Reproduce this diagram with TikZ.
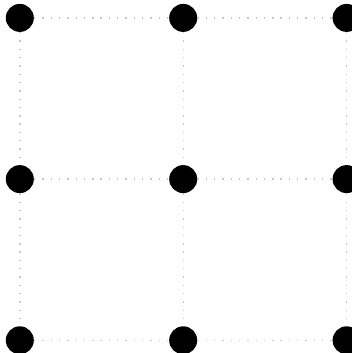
\documentclass[tikz,border=0pt]{standalone}
\usepackage{tikz}
\usetikzlibrary{positioning}

\begin{document}
\begin{tikzpicture}[
  x=1pt,y=1pt,
  v/.style={circle,fill=black,minimum size=28pt,inner sep=0pt},
  g/.style={draw=black!22,line width=1.4pt,dash pattern=on 1.4pt off 6.9pt},
  node distance=132.8pt and 135pt
]
\useasboundingbox (0,0) rectangle (352,-353);
\node[v] (a) at (19.8,-17.9) {};
\node[v,right=of a] (b) {};
\node[v,right=of b] (c) {};
\node[v,below=of a] (d) {};
\node[v,right=of d] (e) {};
\node[v,right=of e] (f) {};
\node[v,below=of d] (h) {};
\node[v,right=of h] (i) {};
\node[v,right=of i] (j) {};
% grid
\draw[g] (a)--(b);
\draw[g] (b)--(c);
\draw[g] (d)--(e);
\draw[g] (e)--(f);
\draw[g] (h)--(i);
\draw[g] (i)--(j);
\draw[g] (a)--(d);
\draw[g] (d)--(h);
\draw[g] (b)--(e);
\draw[g] (e)--(i);
\draw[g] (c)--(f);
\draw[g] (f)--(j);
\end{tikzpicture}
\end{document}
